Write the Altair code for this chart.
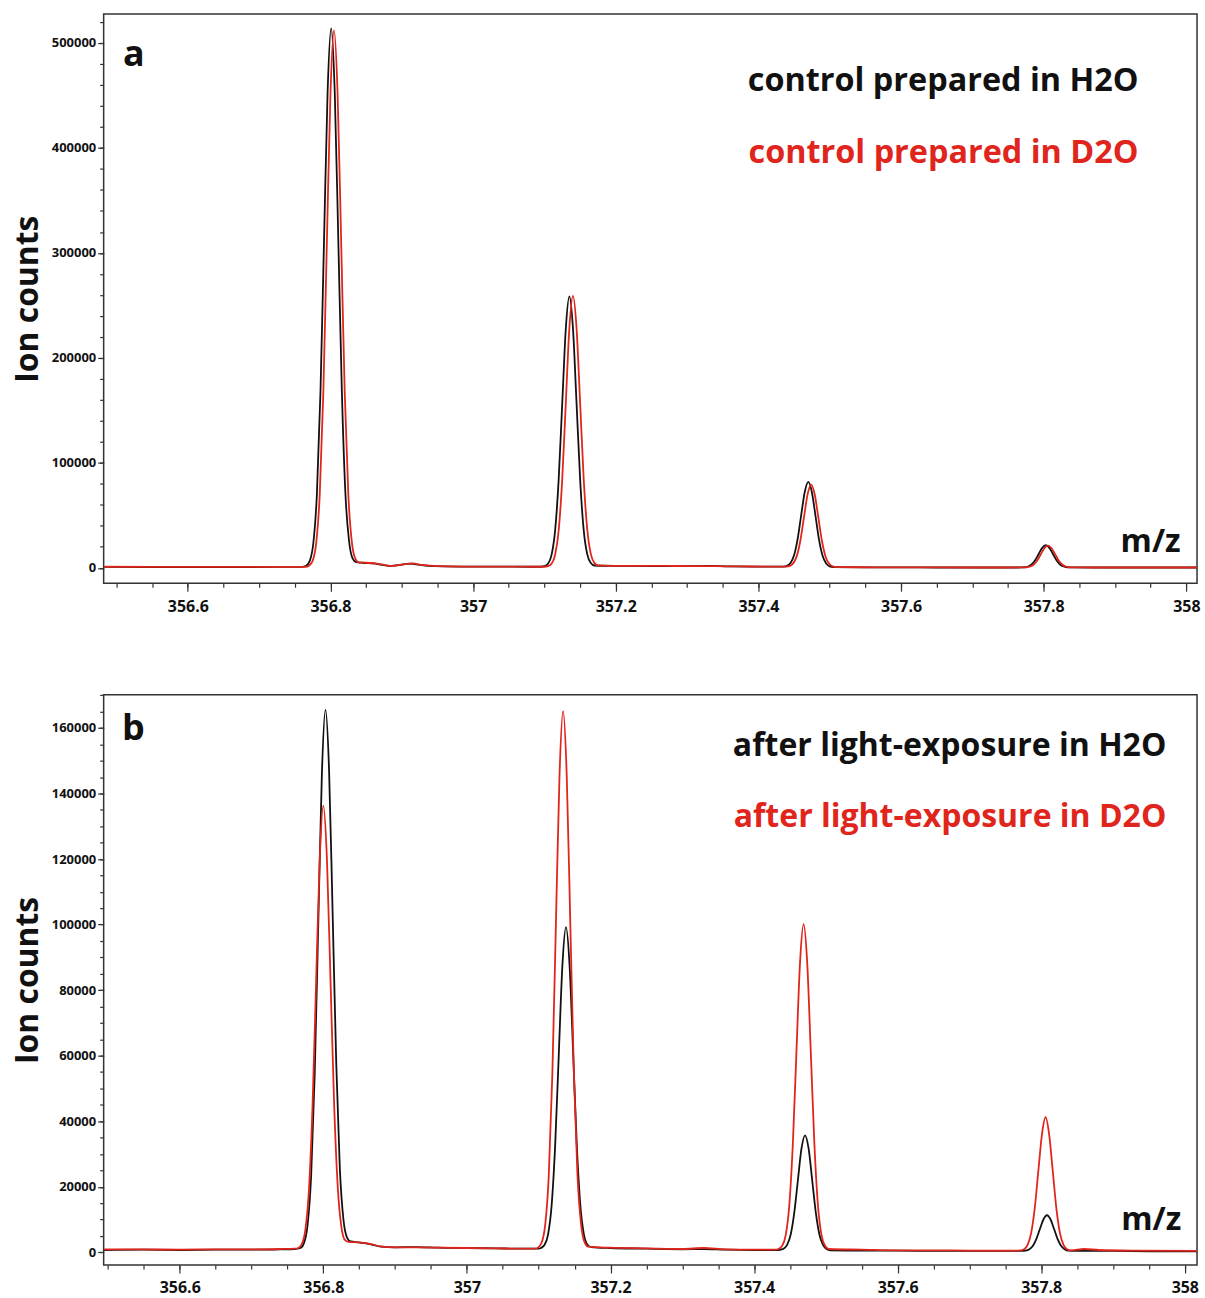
import altair as alt
import pandas as pd

FONT = "Open Sans"
BLACK = "#111111"
RED = "#e0261c"

# ---------------- Panel a: controls ----------------
a_h2o_mz = [356.482, 356.55, 356.65, 356.72, 356.76,
            356.766, 356.771, 356.776, 356.781, 356.786, 356.791, 356.796, 356.801, 356.806, 356.811, 356.816, 356.821, 356.826, 356.831, 356.836,
            356.845, 356.86, 356.875, 356.885, 356.9, 356.912, 356.925, 356.945, 356.98, 357.03, 357.08, 357.095,
            357.100, 357.105, 357.110, 357.115, 357.120, 357.125, 357.130, 357.135, 357.140, 357.145, 357.150, 357.155, 357.160, 357.165, 357.170,
            357.2, 357.25, 357.3, 357.33, 357.36, 357.4, 357.43,
            357.435, 357.440, 357.445, 357.450, 357.455, 357.460, 357.465, 357.470, 357.475, 357.480, 357.485, 357.490, 357.495, 357.500, 357.505,
            357.55, 357.6, 357.65, 357.7, 357.75, 357.765,
            357.768, 357.773, 357.778, 357.783, 357.788, 357.793, 357.798, 357.803, 357.808, 357.813, 357.818, 357.823, 357.828, 357.833, 357.838,
            357.87, 357.93, 358.016]
a_h2o_int = [800, 700, 700, 800, 900,
             2000, 6600, 23600, 70300, 167700, 312400, 453500, 514000, 453500, 312400, 167700, 70300, 26000, 9000, 5500,
             4800, 4300, 2500, 1800, 3000, 4000, 2800, 1500, 1200, 1100, 1000, 1000,
             1500, 3800, 12300, 35700, 84500, 157200, 228000, 258500, 228200, 157500, 85000, 36400, 13000, 4500, 2200,
             1800, 1700, 1500, 1700, 1300, 1200, 1100,
             1200, 1900, 4600, 11900, 27300, 50200, 72200, 81800, 72000, 49800, 26800, 11400, 4100, 1400, 700,
             500, 400, 300, 300, 300, 300,
             340, 530, 1230, 3160, 7200, 13200, 19000, 21500, 19000, 13200, 7200, 3160, 1230, 530, 340,
             300, 300, 300]

a_d2o_mz = [356.482, 356.6, 356.7, 356.765,
            356.770, 356.775, 356.780, 356.785, 356.790, 356.795, 356.800, 356.805, 356.810, 356.815, 356.820, 356.825, 356.830, 356.835, 356.840,
            356.85, 356.865, 356.878, 356.888, 356.903, 356.915, 356.928, 356.95, 356.99, 357.04, 357.09, 357.100,
            357.105, 357.110, 357.115, 357.120, 357.125, 357.130, 357.135, 357.140, 357.145, 357.150, 357.155, 357.160, 357.165, 357.170, 357.175,
            357.21, 357.26, 357.31, 357.34, 357.37, 357.41, 357.43,
            357.439, 357.444, 357.449, 357.454, 357.459, 357.464, 357.469, 357.474, 357.479, 357.484, 357.489, 357.494, 357.499, 357.504, 357.509,
            357.56, 357.62, 357.7, 357.75,
            357.771, 357.776, 357.781, 357.786, 357.791, 357.796, 357.801, 357.806, 357.811, 357.816, 357.821, 357.826, 357.831, 357.836, 357.841,
            357.88, 357.95, 358.016]
a_d2o_int = [1000, 800, 800, 900,
             2000, 6600, 23500, 70000, 167000, 311000, 451700, 512000, 451700, 311000, 167000, 70500, 24500, 8500, 5000,
             4800, 4000, 2400, 1900, 3300, 4200, 2700, 1500, 1200, 1100, 1000, 1000,
             1500, 3800, 12400, 35800, 84800, 157500, 228600, 259000, 228600, 158000, 85300, 36800, 13300, 4700, 2300,
             1800, 1800, 1600, 1600, 1300, 1200, 1100,
             1150, 1850, 4450, 11600, 26500, 48600, 70000, 79300, 69800, 48200, 26000, 11100, 4000, 1400, 700,
             500, 400, 300, 300,
             340, 530, 1210, 3100, 7060, 12930, 18650, 21100, 18650, 12930, 7060, 3100, 1210, 530, 340,
             300, 300, 300]

# ---------------- Panel b: after light exposure ----------------
b_h2o_mz = [356.494, 356.55, 356.6, 356.65, 356.7, 356.74, 356.76,
            356.768, 356.773, 356.778, 356.783, 356.788, 356.793, 356.798, 356.803, 356.808, 356.813, 356.818, 356.823, 356.828, 356.833, 356.838,
            356.85, 356.865, 356.88, 356.9, 356.93, 356.96, 357.0, 357.04, 357.08, 357.1,
            357.103, 357.108, 357.113, 357.118, 357.123, 357.128, 357.133, 357.138, 357.143, 357.148, 357.153, 357.158, 357.163, 357.168, 357.173,
            357.2, 357.25, 357.3, 357.33, 357.36, 357.4, 357.43,
            357.436, 357.441, 357.446, 357.451, 357.456, 357.461, 357.466, 357.471, 357.476, 357.481, 357.486, 357.491, 357.496, 357.501, 357.506,
            357.55, 357.6, 357.65, 357.7, 357.75, 357.772,
            357.778, 357.783, 357.788, 357.793, 357.798, 357.803, 357.808, 357.813, 357.818, 357.823, 357.828, 357.833, 357.838, 357.85,
            357.9, 357.95, 358.017]
b_h2o_int = [700, 800, 700, 800, 800, 900, 1000,
             1300, 2800, 8200, 23200, 54500, 100800, 146100, 165500, 147000, 103000, 57500, 25500, 10000, 4500, 3300,
             3000, 2500, 1700, 1500, 1600, 1400, 1300, 1200, 1100, 1100,
             1300, 2200, 5400, 14300, 33000, 60600, 87500, 99200, 87500, 60600, 33000, 14300, 5400, 2300, 1600,
             1300, 1100, 900, 1000, 800, 700, 700,
             770, 1090, 2240, 5430, 12100, 21900, 31600, 35700, 31600, 21900, 12100, 5430, 2240, 1000, 600,
             500, 500, 400, 400, 400, 400,
             520, 880, 1870, 3940, 7010, 10000, 11300, 10000, 7010, 3940, 1870, 880, 520, 400,
             400, 300, 300]

b_d2o_mz = [356.494, 356.55, 356.6, 356.65, 356.7, 356.74, 356.76,
            356.765, 356.770, 356.775, 356.780, 356.785, 356.790, 356.795, 356.800, 356.805, 356.810, 356.815, 356.820, 356.825, 356.830, 356.835,
            356.85, 356.865, 356.88, 356.9, 356.93, 356.96, 357.0, 357.04, 357.08, 357.095,
            357.099, 357.104, 357.109, 357.114, 357.119, 357.124, 357.129, 357.134, 357.139, 357.144, 357.149, 357.154, 357.159, 357.164, 357.169,
            357.2, 357.25, 357.3, 357.33, 357.36, 357.4, 357.43,
            357.434, 357.439, 357.444, 357.449, 357.454, 357.459, 357.464, 357.469, 357.474, 357.479, 357.484, 357.489, 357.494, 357.499, 357.504,
            357.55, 357.6, 357.65, 357.7, 357.75, 357.765,
            357.771, 357.776, 357.781, 357.786, 357.791, 357.796, 357.801, 357.806, 357.811, 357.816, 357.821, 357.826, 357.831, 357.836, 357.841,
            357.86, 357.88, 357.93, 358.017]
b_d2o_int = [900, 900, 800, 900, 900, 1000, 1100,
             1300, 2500, 6900, 19200, 44900, 82900, 120100, 136300, 120100, 82900, 45500, 20200, 8000, 3800, 3200,
             3000, 2600, 1800, 1500, 1500, 1400, 1300, 1200, 1100, 1100,
             1430, 2900, 8300, 23300, 54400, 100600, 145700, 165100, 145700, 100600, 54600, 23500, 8500, 3000, 1700,
             1400, 1200, 1000, 1300, 900, 800, 800,
             1000, 1900, 5160, 14200, 33100, 61100, 88400, 100100, 88400, 61100, 33100, 14200, 5160, 1900, 1000,
             800, 600, 600, 500, 500, 500,
             580, 950, 2270, 5930, 13550, 24900, 36000, 41200, 36000, 24900, 13550, 5930, 2270, 950, 600,
             1000, 700, 500, 400]

legend_a = ["control prepared in H2O", "control prepared in D2O"]
legend_b = ["after light-exposure in H2O", "after light-exposure in D2O"]
panel_tags = ["a", "b"]
x_axis_label = "m/z"
y_axis_label = "Ion counts"

x_major = [356.6, 356.8, 357.0, 357.2, 357.4, 357.6, 357.8, 358.0]
x_minor = [round(356.5 + 0.05 * i, 2) for i in range(31)]
y_major_a = [0, 100000, 200000, 300000, 400000, 500000]
y_minor_a = [20000 * i for i in range(27)]
y_major_b = [0, 20000, 40000, 60000, 80000, 100000, 120000, 140000, 160000]
y_minor_b = [5000 * i for i in range(35)]

TICK = "#333333"


def x_axis_major():
    return alt.Axis(
        values=x_major, format=".1~f", orient="bottom",
        tickSize=8, title=None, domain=False, grid=False, labelOverlap=False,
        labelFont=FONT, labelFontSize=16, labelFontWeight="bold", labelColor=BLACK,
        labelPadding=7, tickColor=TICK, tickWidth=1.2,
    )


def x_axis_minor():
    return alt.Axis(
        values=x_minor, orient="bottom", labels=False, tickSize=4, title=None,
        domain=False, grid=False, tickColor=TICK, tickWidth=1.2,
    )


def y_axis_major(vals):
    return alt.Axis(
        values=vals, format="d", orient="left", tickSize=6,
        title=y_axis_label, titleFont=FONT, titleFontSize=32, titleFontWeight="bold",
        titleColor=BLACK, titlePadding=7,
        domain=False, grid=False, labelOverlap=False,
        labelFont=FONT, labelFontSize=13, labelFontWeight="bold", labelColor=BLACK,
        labelPadding=2, tickColor=TICK, tickWidth=1.2,
    )


def y_axis_minor(vals):
    return alt.Axis(
        values=vals, orient="left", labels=False, tickSize=4, title=None,
        domain=False, grid=False, tickColor=TICK, tickWidth=1.2,
    )


def text_layer(label, x, y, color, size, align):
    return alt.Chart(pd.DataFrame({"t": [label]})).mark_text(
        align=align, baseline="alphabetic", font=FONT, fontSize=size,
        fontWeight="bold", color=color,
    ).encode(x=alt.datum(x), y=alt.datum(y), text="t:N")


def panel(h_mz, h_int, d_mz, d_int, xdom, ydom, ymaj, ymin, legend, tag, pos, h, lsize):
    xs = alt.Scale(domain=xdom, nice=False, zero=False)
    ys = alt.Scale(domain=ydom, nice=False, zero=False)
    black = alt.Chart(pd.DataFrame({"mz": h_mz, "ions": h_int})).mark_line(
        color=BLACK, strokeWidth=1.8, interpolate="monotone", clip=True
    ).encode(
        x=alt.X("mz:Q", scale=xs, axis=x_axis_major()),
        y=alt.Y("ions:Q", scale=ys, axis=y_axis_major(ymaj)),
    )
    main = alt.layer(
        black,
        text_layer(tag, pos["tag"][0], pos["tag"][1], BLACK, 36, "left"),
        text_layer(legend[0], pos["l1"][0], pos["l1"][1], BLACK, lsize, "right"),
        text_layer(legend[1], pos["l2"][0], pos["l2"][1], RED, lsize, "right"),
        text_layer(x_axis_label, pos["mz"][0], pos["mz"][1], BLACK, 32, "right"),
    )
    red = alt.Chart(pd.DataFrame({"mz": d_mz, "ions": d_int})).mark_line(
        color=RED, strokeWidth=1.8, interpolate="monotone", clip=True
    ).encode(
        x=alt.X("mz:Q", scale=xs, axis=x_axis_minor()),
        y=alt.Y("ions:Q", scale=ys, axis=y_axis_minor(ymin)),
    )
    return alt.layer(main, red).resolve_axis(x="independent", y="independent").properties(
        width=1097, height=h
    )


top = panel(a_h2o_mz, a_h2o_int, a_d2o_mz, a_d2o_int,
            [356.482, 358.015], [-14700, 527500], y_major_a, y_minor_a,
            legend_a, panel_tags[0],
            {"tag": (356.509, 478100), "l1": (357.933, 454400),
             "l2": (357.933, 386000), "mz": (357.992, 14716)}, 571, 32.5)
bottom = panel(b_h2o_mz, b_h2o_int, b_d2o_mz, b_d2o_int,
               [356.494, 358.017], [-3870, 170100], y_major_b, y_minor_b,
               legend_b, panel_tags[1],
               {"tag": (356.5195, 156200), "l1": (357.9743, 151550),
                "l2": (357.9743, 129750), "mz": (357.995, 6890)}, 572, 32.1)

chart = alt.vconcat(top, bottom, spacing=78).properties(
    padding={"left": 10, "top": 11, "right": 4, "bottom": 4},
    background="white",
).configure_view(stroke="#333333", strokeWidth=1.5)

chart.save("out.html", embed_options={"renderer": "svg", "actions": False})
